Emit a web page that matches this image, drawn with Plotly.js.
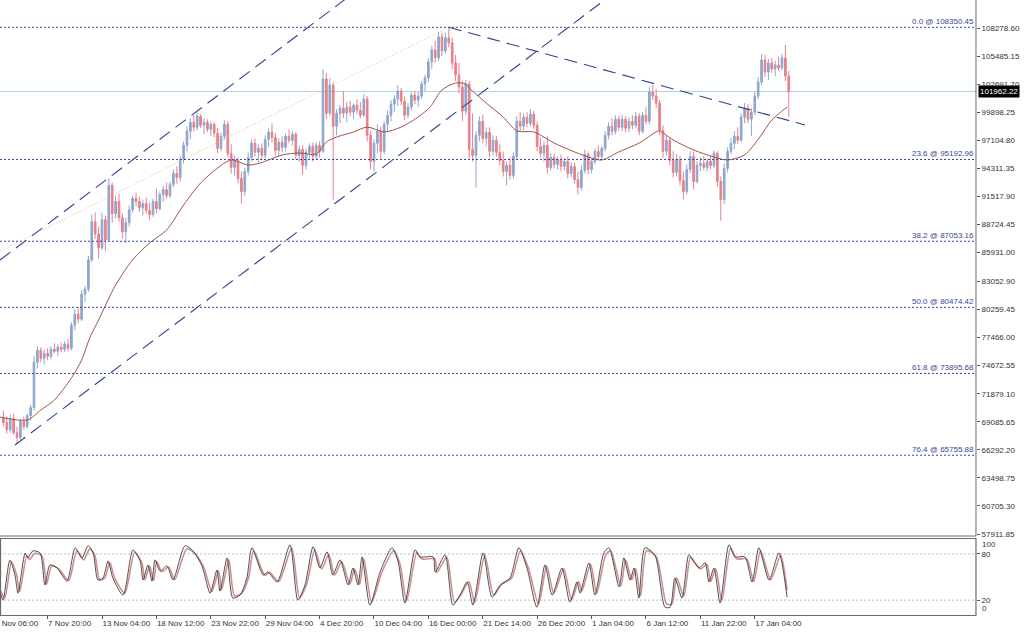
<!DOCTYPE html>
<html>
<head>
<meta charset="utf-8">
<script src="https://cdn.plot.ly/plotly-3.0.1.min.js"></script>
<style>
html,body{margin:0;padding:0;background:#fff;}
#chart{width:1024px;height:633px;}
</style>
</head>
<body>
<div id="chart"></div>
<script>
// ---------- DATA ----------
const barOpen = [69500,69000,68300,69400,68000,67500,69100,68600,69700,70500,
75000,76200,75400,75900,75600,76300,76100,76500,76300,76800,
76400,78700,79800,79300,81800,82300,85200,89000,87800,86400,
89200,87200,92600,89800,91000,89400,88000,88900,90200,91300,
91000,90400,90800,90100,89700,91000,90300,91700,92200,91600,
92700,93800,93400,95200,96600,98000,98900,98400,99500,98600,
98900,98200,98700,97800,96300,97500,98700,95800,94400,95100,
93300,92000,94000,95400,96800,95900,96300,95600,97200,97900,
97400,96100,96900,96400,97500,97100,97700,95600,96200,94600,
95900,96500,95500,96600,96000,103200,99800,102600,98500,99800,
100300,99800,100400,99900,100600,100100,99600,101200,97600,95000,
96800,98000,96000,98700,99600,100700,101200,102000,101000,99600,
100400,101600,101100,101500,102700,103300,104900,106100,105300,107400,
106000,107300,106800,104800,103600,102400,100000,102700,96200,95600,
97600,99000,97300,97900,96000,97100,95900,95100,94000,94600,
93600,95500,99000,98500,99400,98800,99700,98600,96500,95800,
96600,94400,95400,94700,95200,94500,95000,93800,94500,93200,
92400,94100,95700,94200,95000,96000,95500,96300,97600,98500,
98000,99200,98400,99200,98300,99000,98600,99500,98000,99600,
99000,101900,101500,100800,98100,96000,97100,95100,93900,95200,
93100,92000,94200,95500,93000,94600,94800,94400,95000,94600,
95800,93000,91200,94300,96000,96800,97500,97100,99400,100300,
99200,99900,101500,102900,105100,103900,104800,104200,104600,104300,
105300,103500];
const barHigh = [70200,69600,69800,69900,68600,69400,69600,69900,70800,75600,
76600,76500,76300,76400,76600,76900,76800,77000,77100,77300,
79000,80300,80500,82200,82600,85600,89700,89900,88500,89900,
89600,93300,92900,91600,91800,89800,89400,90600,91600,91900,
91500,91200,91400,90900,91300,92300,92000,92600,92900,93000,
94200,94500,95600,97000,98500,99300,99600,99900,99700,99300,
99200,99000,98900,98300,97900,99100,99000,96700,95600,95400,
94000,94400,95900,97200,97300,96700,96800,97600,98300,98800,
97800,97300,97500,97800,98200,98000,97900,96600,96600,96300,
96800,96900,96900,97000,104200,103800,103300,102900,100200,100600,
102000,100900,101000,100800,101200,100900,101700,101500,98000,97200,
98700,98500,99000,100100,101100,101600,102600,102300,101500,100800,
101900,102000,101900,103000,103600,105300,106500,107000,107900,107800,
107800,108350,107300,105600,104800,103000,103100,103000,99800,98000,
99500,99600,98400,98400,97600,97500,96700,96000,95000,95400,
95900,99500,99900,99800,99900,100200,100000,99000,97400,97000,
97500,95800,95800,95500,95700,95300,95500,94900,94900,94000,
94600,96200,96000,95300,96300,96600,96500,98000,98900,99300,
99600,99500,99600,99500,99400,99600,99900,99800,99900,100400,
102400,102600,102200,101100,98600,97600,97400,96000,95800,95600,
94000,94700,96000,96000,95000,95400,95500,95300,95600,96100,
96000,93500,94800,96400,97300,98000,98400,99800,100800,100700,
100300,101900,103400,105700,105600,105200,105300,105000,105400,105700,
106600,104000];
const barLow = [68600,67900,68000,67800,66900,67300,68300,68400,69200,70200,
74400,75000,74800,75200,75300,75900,75600,76000,76000,76100,
76200,78200,78900,79100,81000,82000,85000,87300,85300,86200,
86100,87000,88900,89300,89000,87300,86900,88500,89900,90500,
90000,89600,89800,89200,89500,89800,90100,91000,91300,91400,
92400,92800,93000,94800,96000,97200,98000,98100,98300,97700,
97900,97500,97400,95800,96000,97200,95400,93800,93600,92800,
90800,91600,93600,95000,95500,94900,95200,95300,96500,96900,
95600,95500,95900,96000,96800,96600,95200,95000,93700,94200,
95300,95000,95200,95400,95800,99200,99500,91200,97600,98800,
99300,98900,99500,99200,99700,99300,99400,97000,94200,94000,
95800,95200,95700,98000,99000,99900,100500,100600,99100,99300,
100100,100700,100400,101200,102000,102900,104200,104800,105000,105500,
105700,106400,104200,103000,101800,99000,99600,95300,95000,92400,
97000,96800,96500,95400,95600,95500,94600,93500,92600,93200,
93300,95200,98000,98100,98400,98500,98200,96000,95400,95000,
93800,94100,94300,94200,94000,94100,93300,93400,92800,91700,
92100,93800,93700,93800,94700,95200,95200,96000,97200,97600,
97700,98000,98000,97900,97900,98200,98300,97600,97800,98700,
98700,101100,100300,97600,95400,95600,94600,93400,93500,92600,
91200,91700,93800,92200,92800,94000,94100,94000,94200,94300,
92500,89100,90800,93900,95700,96200,96700,96900,98800,98800,
97500,99600,101200,102600,103400,103100,103800,103500,104000,104100,
103000,99400];
const barClose = [69000,68300,69400,68000,67500,69100,68600,69700,70500,75000,
76200,75400,75900,75600,76300,76100,76500,76300,76800,76400,
78700,79800,79300,81800,82300,85200,89000,87800,86400,89200,
87200,92600,89800,91000,89400,88000,88900,90200,91300,91000,
90400,90800,90100,89700,91000,90300,91700,92200,91600,92700,
93800,93400,95200,96600,98000,98900,98400,99500,98600,98900,
98200,98700,97800,96300,97500,98700,95800,94400,95100,93300,
92000,94000,95400,96800,95900,96300,95600,97200,97900,97400,
96100,96900,96400,97500,97100,97700,95600,96200,94600,95900,
96500,95500,96600,96000,103200,99800,102600,98500,99800,100300,
99800,100400,99900,100600,100100,99600,101200,97600,95000,96800,
98000,96000,98700,99600,100700,101200,102000,101000,99600,100400,
101600,101100,101500,102700,103300,104900,106100,105300,107400,106000,
107300,106800,104800,103600,102400,100000,102700,96200,95600,97600,
99000,97300,97900,96000,97100,95900,95100,94000,94600,93600,
95500,99000,98500,99400,98800,99700,98600,96500,95800,96600,
94400,95400,94700,95200,94500,95000,93800,94500,93200,92400,
94100,95700,94200,95000,96000,95500,96300,97600,98500,98000,
99200,98400,99200,98300,99000,98600,99500,98000,99600,99000,
101900,101500,100800,98100,96000,97100,95100,93900,95200,93100,
92000,94200,95500,93000,94600,94800,94400,95000,94600,95800,
93000,91200,94300,96000,96800,97500,97100,99400,100300,99200,
99900,101500,102900,105100,103900,104800,104200,104600,104300,105300,
103500,101962.22];

// moving average (bar position, price)
const maIdx = [-1,7,11,15,20,23,25.5,28,33,38,43,48,53,58,63,67,72,75.5,82,87,92,95,98,103,107,112,117,122,125.5,129,133,136,137,142,147,151,156,162,168,173,176,181,187,192,193,197,203,209,213,218,222.5,226,230.5];
const maVal = [69560,69260,70250,71250,73440,75230,77520,79210,82700,85190,86880,88170,90660,92850,94340,95140,94640,94840,95640,95840,95740,96930,97430,97930,98420,97930,98420,99420,100410,102110,102800,102700,102310,100810,99420,98030,97930,96830,95940,95340,95140,95940,96830,97930,98030,97130,96140,95440,95140,95640,97430,99120,100410];

// stochastic oscillator (%K main, %D signal) read at turning points
const kIdx = [-1,-0.1,1.9,3.4,4.3,6.4,7.2,8.7,10.8,12.2,
13.7,15.8,18.7,21.1,23.1,24.9,26.4,27.8,29.3,30.8,
32.2,35.2,38.1,40.2,41.1,42.5,43.7,44.6,46.1,48.1,
49.9,53.4,55.8,58.4,60.8,62.8,63.7,65.8,67.5,69.6,
71.6,73.1,76.4,77.8,80.5,84.3,86.6,88.7,91.1,93.1,
95.2,96.9,99,101.4,102.8,104.3,105.5,107.8,110.8,114.3,
116.1,118.1,121.1,122.5,126.4,127,129.9,132.2,134.3,136.4,
138.1,141.1,143.7,146.1,149,151.6,154,156.9,159.3,161.4,
164.3,166.6,168.7,169.6,172.2,174,176.6,178.1,181.1,182.5,
184.3,185.5,186.9,188.7,191.6,194.6,196.1,197.5,199.6,201.6,
203.1,204.6,206.4,207.5,209,210.8,213.4,215.2,218.1,220.2,
222.2,225.2,228.1,230.5];
const kVal = [31.7,20,72,52.6,29,81,75,84,81,39.6,
65.7,61.7,44.8,87.9,74.8,90.5,81.3,46.1,48.7,70.9,
48.7,26.5,85.2,70.9,46.1,65.7,44.8,72.2,57.8,64.4,
46.1,90.5,83.9,64.4,29.1,59.1,31.7,74.8,22.6,26.5,
48.7,87.9,52.6,56.5,43.5,91.8,20,39.6,89.2,61.7,
82.6,52.6,72.2,39.6,61.7,39.6,76.1,13.5,56.5,87.9,
69.6,16.1,85.2,76.1,76.1,56.5,78.7,13.5,26.5,43.5,
13.5,81.3,23.9,39.6,48.7,87.9,61.7,10.8,65.7,26.5,
61.7,17.4,43.5,29.1,68.3,26.5,81.3,87.9,37,74.8,
46.1,61.7,22.6,87.9,78.7,10.8,10.8,48.7,22.6,78.7,
69.6,61.7,68.3,43.5,61.7,16.1,91.8,76.1,76.1,43.5,
87.9,46.1,81.3,23.9];
const dIdx = [-1,0.4,2.4,3.9,4.8,6.9,7.7,9.2,11.3,12.7,
14.2,16.3,19.2,21.6,23.6,25.4,26.9,28.3,29.8,31.3,
32.7,35.7,38.6,40.7,41.6,43,44.2,45.1,46.6,48.6,
50.4,53.9,56.3,58.9,61.3,63.3,64.2,66.3,68,70.1,
72.1,73.6,76.9,78.3,81,84.8,87.1,89.2,91.6,93.6,
95.7,97.4,99.5,101.9,103.3,104.8,106,108.3,111.3,114.8,
116.6,118.6,121.6,123,126.9,127.5,130.4,132.7,134.8,136.9,
138.6,141.6,144.2,146.6,149.5,152.1,154.5,157.4,159.8,161.9,
164.8,167.1,169.2,170.1,172.7,174.5,177.1,178.6,181.6,183,
184.8,186,187.4,189.2,192.1,195.1,196.6,198,200.1,202.1,
203.6,205.1,206.9,208,209.5,211.3,213.9,215.7,218.6,220.7,
222.7,225.7,228.6,230.5];
const dVal = [33.5,23,69.8,52.3,31.1,77.9,72.5,80.6,77.9,40.6,
64.1,60.5,45.3,84.1,72.3,86.5,78.2,46.5,48.8,68.8,
48.8,28.9,81.7,68.8,46.5,64.1,45.3,70,57,63,
46.5,86.5,80.5,63,31.2,58.2,33.5,72.3,25.3,28.9,
48.8,84.1,52.3,55.9,44.2,87.6,23,40.6,85.3,60.5,
79.3,52.3,70,40.6,60.5,40.6,73.5,17.2,55.9,84.1,
67.6,19.5,81.7,73.5,73.5,55.9,75.8,17.2,28.9,44.2,
17.2,78.2,26.5,40.6,48.8,84.1,60.5,14.7,64.1,28.9,
60.5,20.7,44.2,31.2,66.5,28.9,78.2,84.1,38.3,72.3,
46.5,60.5,25.3,84.1,75.8,14.7,14.7,48.8,25.3,75.8,
67.6,60.5,66.5,44.2,60.5,19.5,87.6,73.5,73.5,44.2,
84.1,46.5,78.2,33];

// drawn trend lines (bar position, price)
const chanUpperIdx = [-1, 116.6], chanUpperPx = [85186, 115246];
const chanLowerIdx = [3.4, 190.2], chanLowerPx = [66771, 114480];
const downTrendIdx = [131, 235.8], downTrendPx = [108350.45, 98623];
const fibTrendIdx = [-1, 131], fibTrendPx = [86080, 108350.45];

// Fibonacci levels
const fibRatios = ['0.0','23.6','38.2','50.0','61.8','76.4'];
const fibLevels = [108350.45, 95192.96, 87053.16, 80474.42, 73895.68, 65755.88];
const currentPrice = 101962.22;

// axis ticks
const priceTicks = [108278.60,105485.15,102691.70,99898.25,97104.80,94311.35,91517.90,88724.45,85931.00,83052.90,80259.45,77466.00,74672.55,71879.10,69085.65,66292.20,63498.75,60705.30,57911.85];
const timeTickIdx = [13,29,45,61,77,93,109,125,141,157,173,189,205,221];
const timeTickLabels = ['7 Nov 20:00','13 Nov 04:00','18 Nov 12:00','23 Nov 22:00','29 Nov 04:00','4 Dec 20:00','10 Dec 04:00','16 Dec 00:00','21 Dec 14:00','26 Dec 20:00','1 Jan 04:00','6 Jan 12:00','11 Jan 22:00','17 Jan 04:00'];
const firstTimeIdx = -3, firstTimeLabel = '2 Nov 06:00';
const stochLevels = [80, 20];

// ---------- CHART ----------
const barIndex = barClose.map((_, i) => i);
const XR = [-1, 286.06];
const XDOM = [0, 0.9531];
const FONT = 'Liberation Sans, Arial, sans-serif';
const NAVY = '#34408c';

const traces = [
  {type:'candlestick', x:barIndex, open:barOpen, high:barHigh, low:barLow, close:barClose,
   xaxis:'x', yaxis:'y', whiskerwidth:0,
   increasing:{line:{color:'#8ea7cc', width:1}, fillcolor:'#8ea7cc'},
   decreasing:{line:{color:'#e8808a', width:1}, fillcolor:'#e8808a'},
   hoverinfo:'skip'},
  {type:'scatter', mode:'lines', x:maIdx, y:maVal, xaxis:'x', yaxis:'y',
   line:{color:'#a0524a', width:1, shape:'spline', smoothing:0.8}, hoverinfo:'skip'},
  {type:'scatter', mode:'lines', x:fibTrendIdx, y:fibTrendPx, xaxis:'x', yaxis:'y',
   line:{color:'#eab0b0', width:1, dash:'1px,2px'}, hoverinfo:'skip'},
  {type:'scatter', mode:'lines', x:chanUpperIdx, y:chanUpperPx, xaxis:'x', yaxis:'y',
   line:{color:NAVY, width:1.1, dash:'13px,7px'}, hoverinfo:'skip'},
  {type:'scatter', mode:'lines', x:chanLowerIdx, y:chanLowerPx, xaxis:'x', yaxis:'y',
   line:{color:NAVY, width:1.1, dash:'13px,7px'}, hoverinfo:'skip'},
  {type:'scatter', mode:'lines', x:downTrendIdx, y:downTrendPx, xaxis:'x', yaxis:'y',
   line:{color:NAVY, width:1.1, dash:'13px,7px'}, hoverinfo:'skip'},
  {type:'scatter', mode:'lines', x:dIdx, y:dVal, xaxis:'x', yaxis:'y2',
   line:{color:'#cf8f8f', width:1.6, shape:'spline', smoothing:0.7}, hoverinfo:'skip'},
  {type:'scatter', mode:'lines', x:kIdx, y:kVal, xaxis:'x', yaxis:'y2',
   line:{color:'#3a3a3a', width:0.9, shape:'spline', smoothing:0.7}, hoverinfo:'skip'}
];

const shapes = [];
fibLevels.forEach(v => shapes.push({type:'line', xref:'paper', yref:'y', x0:XDOM[0], x1:XDOM[1], y0:v, y1:v,
  line:{color:'#3a4696', width:1, dash:'2px,2px'}, layer:'above'}));
shapes.push({type:'line', xref:'paper', yref:'y', x0:XDOM[0], x1:XDOM[1], y0:currentPrice, y1:currentPrice,
  line:{color:'#a9d3ea', width:1}, layer:'below'});
stochLevels.forEach(v => shapes.push({type:'line', xref:'paper', yref:'y2', x0:XDOM[0], x1:XDOM[1], y0:v, y1:v,
  line:{color:'#bdbdbd', width:1, dash:'2px,2px'}, layer:'below'}));
// panel frames
shapes.push({type:'line', xref:'paper', yref:'paper', x0:XDOM[1], x1:XDOM[1], y0:0.1532, y1:1, line:{color:'#6a6a6a', width:1}});
shapes.push({type:'line', xref:'paper', yref:'paper', x0:0, x1:XDOM[1], y0:0.1532, y1:0.1532, line:{color:'#6a6a6a', width:1}});
shapes.push({type:'rect', xref:'paper', yref:'paper', x0:0.0005, x1:XDOM[1], y0:0.02765, y1:0.14929, line:{color:'#6a6a6a', width:1.2}});

const annotations = [];
fibLevels.forEach((v, i) => annotations.push({xref:'paper', yref:'y', x:XDOM[1]-0.001, y:v, xanchor:'right', yanchor:'bottom',
  text: fibRatios[i] + ' @ ' + v.toFixed(2), showarrow:false, font:{family:FONT, size:8, color:'#3a4696'}, borderpad:0}));
annotations.push({xref:'paper', yref:'y', x:XDOM[1]+0.002, y:currentPrice, xanchor:'left', yanchor:'middle',
  text: currentPrice.toFixed(2), showarrow:false, bgcolor:'#000000', font:{family:FONT, size:8, color:'#ffffff'}, borderpad:1});
annotations.push({xref:'paper', yref:'y2', x:XDOM[1]+0.004, y:100, xanchor:'left', yanchor:'top', text:'100', showarrow:false, font:{family:FONT, size:8, color:'#333'}});
annotations.push({xref:'paper', yref:'y2', x:XDOM[1]+0.004, y:0, xanchor:'left', yanchor:'bottom', text:'0', showarrow:false, font:{family:FONT, size:8, color:'#333'}});
// first (partly cut) time label, positioned through the x-axis range
const firstFrac = XDOM[0] + (firstTimeIdx - XR[0]) / (XR[1] - XR[0]) * (XDOM[1] - XDOM[0]);
annotations.push({xref:'paper', yref:'paper', x:firstFrac, y:0.0276, xanchor:'left', yanchor:'top', yshift:-1,
  text:firstTimeLabel, showarrow:false, font:{family:FONT, size:8, color:'#333'}});

const layout = {
  width:1024, height:633,
  margin:{l:0, r:0, t:0, b:0},
  paper_bgcolor:'#ffffff', plot_bgcolor:'#ffffff',
  showlegend:false, hovermode:false,
  xaxis:{domain:XDOM, range:XR, anchor:'y2', showgrid:false, zeroline:false,
    tickmode:'array', tickvals:timeTickIdx, ticktext:timeTickLabels, tickangle:0,
    ticks:'outside', ticklen:3, tickcolor:'#555', ticklabelposition:'outside right',
    tickfont:{family:FONT, size:8, color:'#333'}, rangeslider:{visible:false}, showline:false},
  yaxis:{domain:[0.1532, 1], range:[57713, 111066], side:'right', anchor:'x',
    showgrid:false, zeroline:false, tickmode:'array', tickvals:priceTicks, tickformat:'.2f',
    ticks:'outside', ticklen:3, tickcolor:'#555', tickfont:{family:FONT, size:8, color:'#333'}},
  yaxis2:{domain:[0.02765, 0.14929], range:[0, 100], side:'right', anchor:'x',
    showgrid:false, zeroline:false, tickmode:'array', tickvals:stochLevels,
    ticks:'outside', ticklen:3, tickcolor:'#555', tickfont:{family:FONT, size:8, color:'#333'}},
  shapes:shapes, annotations:annotations
};

Plotly.newPlot('chart', traces, layout, {staticPlot:true, displayModeBar:false});
</script>
</body>
</html>
